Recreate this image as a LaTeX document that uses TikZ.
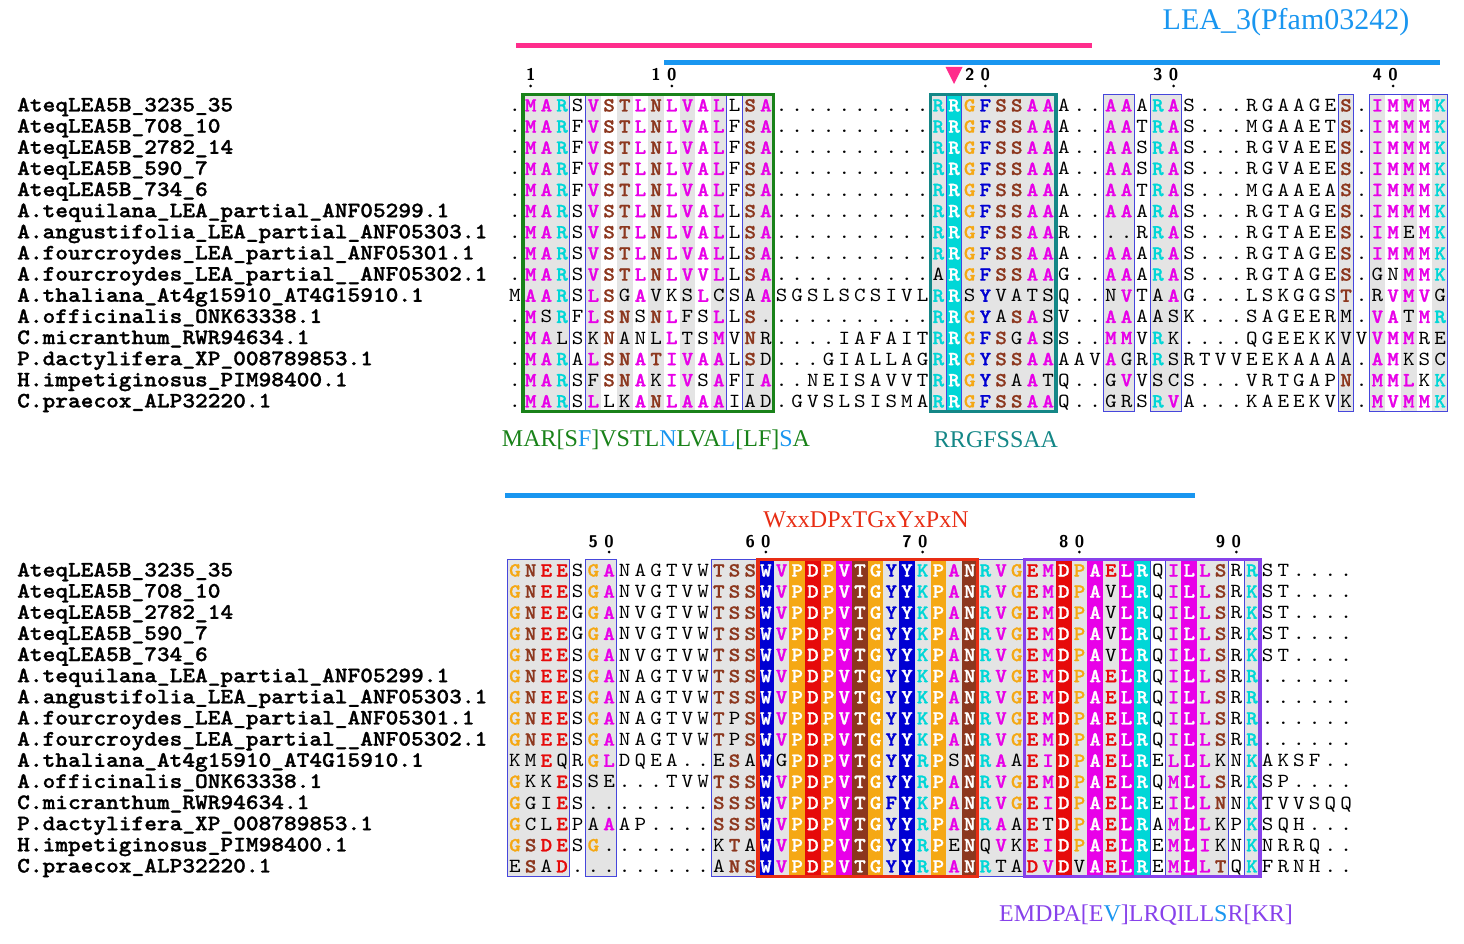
\documentclass[tikz,border=0pt]{standalone}
\usepackage{fontspec}
\usepackage{tikz}
\usetikzlibrary{positioning}
\newfontfamily\annfont{Liberation Serif}
\newfontfamily\alnreg{lmmono10-regular.otf}[FakeStretch=1.1]
\newfontfamily\alnbold{lmmonolt10-bold.otf}[FakeBold=1.2,FakeStretch=1.1]
\definecolor{resMag}{RGB}{232,0,232}
\definecolor{resCya}{RGB}{0,215,215}
\definecolor{resBrn}{RGB}{140,55,30}
\definecolor{resOra}{RGB}{245,168,20}
\definecolor{resRed}{RGB}{230,10,10}
\definecolor{resBlu}{RGB}{0,0,210}
\definecolor{alnGrey}{RGB}{228,228,228}
\definecolor{alnFrame}{RGB}{70,70,220}
\definecolor{motGreen}{RGB}{25,130,25}
\definecolor{motTeal}{RGB}{20,135,135}
\definecolor{motRed}{RGB}{232,45,20}
\definecolor{motPurple}{RGB}{135,65,235}
\definecolor{motPink}{RGB}{255,45,140}
\definecolor{lblBlue}{RGB}{25,150,240}
\tikzset{
  aln/res/.style={font=\alnreg\fontsize{20}{20}\selectfont, inner sep=0pt, anchor=base},
  aln/hil/.style={aln/res, font=\alnbold\fontsize{20}{20}\selectfont},
  aln/solid/.style={aln/hil, text=white},
  aln/name/.style={font=\alnbold\fontsize{22}{22}\selectfont, inner sep=0pt, anchor=base west},
  aln/num/.style={font=\sffamily\bfseries\fontsize{17}{17}\selectfont, inner sep=0pt, anchor=base},
  aln/bg/.style={fill=alnGrey},
  aln/box/.style={draw=alnFrame, line width=1pt},
  aln/motif/.style={line width=3.5pt},
  aln/bar/.style={line width=5pt},
  aln/label/.style={font=\annfont\fontsize{24}{24}\selectfont, inner sep=0pt}
}
% one alignment row: block (T/B), row number, residues
% upper case = highlighted, lower case = plain
\newcount\alncol
\newcommand\colx[1]{515+15.68*(#1)}
\newcommand\alnrow[3]{%
  \def\alnblk{#1}\def\alnrw{#2}%
  \ifx T#1\def\alnyo{105}\else\def\alnyo{570}\fi
  \pgfmathsetmacro\alny{\alnyo+21.14*(#2-1)}%
  \global\alncol=0
  \alnloop#3\relax}
\newcommand\alnloop[1]{\ifx#1\relax\else\alncell{#1}\global\advance\alncol by 1 \expandafter\alnloop\fi}
\newcommand\alncell[1]{%
  \pgfmathsetmacro\alncx{\colx{\the\alncol}}%
  \edef\alnname{\alnblk\alnrw-\the\alncol}%
  \ifnum`#1=46
    \node[aln/res] (\alnname) at (\alncx,\alny+6.5) {.};%
  \else\ifnum`#1<97
    \edef\alnc{\csname rc#1\endcsname}%
    \ifcsname sol\alnblk-\the\alncol\endcsname
      \fill[fill=\alnc] (\alncx-7.84,\alny-10.6) rectangle (\alncx+7.84,\alny+10.6);%
      \node[aln/solid] (\alnname) at (\alncx,\alny+6.5) {#1};%
    \else
      \node[aln/hil, text=\alnc] (\alnname) at (\alncx,\alny+6.5) {#1};%
    \fi
  \else
    \uppercase{\def\alnch{#1}}%
    \node[aln/res] (\alnname) at (\alncx,\alny+6.5) {\alnch};%
  \fi\fi}

\begin{document}
\begin{tikzpicture}[x=1pt, y=-1pt]
\fill[white] (0,0) rectangle (1464,944);
\useasboundingbox (0,0) rectangle (1464,944);

% residue colours and conserved columns
\foreach \r/\c in {A/resMag,V/resMag,I/resMag,L/resMag,M/resMag,R/resCya,K/resCya,S/resBrn,T/resBrn,N/resBrn,Q/resBrn,G/resOra,P/resOra,D/resRed,E/resRed,F/resBlu,Y/resBlu,W/resBlu,C/resBrn,H/resBlu}
  {\expandafter\xdef\csname rc\r\endcsname{\c}}
\foreach \c in {28} {\expandafter\gdef\csname solT-\c\endcsname{}}
\foreach \c in {16,18,19,20,21,22,23,25,27,29,35,37,39,40,43} {\expandafter\gdef\csname solB-\c\endcsname{}}

% grey columns
\foreach \c in {1,2,3,5,...,13,15,16,27,28,...,34,38,39,41,42,53,55,...,59}
  \fill[aln/bg] ({\colx{\c}-7.84},94.43) rectangle ++(15.68,317.1);
\foreach \c in {0,...,3,5,6,13,14,...,40,42,43,44,45,47}
  \fill[aln/bg] ({\colx{\c}-7.84},559.43) rectangle ++(15.68,317.1);

% top block
\alnrow{T}{1}{.MARsVSTLNLVALlSA..........RRGFSSAAa..AAaRAs...rgaageS.IMMMK}
\alnrow{T}{2}{.MARfVSTLNLVALfSA..........RRGFSSAAa..AAtRAs...mgaaetS.IMMMK}
\alnrow{T}{3}{.MARfVSTLNLVALfSA..........RRGFSSAAa..AAsRAs...rgvaeeS.IMMMK}
\alnrow{T}{4}{.MARfVSTLNLVALfSA..........RRGFSSAAa..AAsRAs...rgvaeeS.IMMMK}
\alnrow{T}{5}{.MARfVSTLNLVALfSA..........RRGFSSAAa..AAtRAs...mgaaeaS.IMMMK}
\alnrow{T}{6}{.MARsVSTLNLVALlSA..........RRGFSSAAa..AAaRAs...rgtageS.IMMMK}
\alnrow{T}{7}{.MARsVSTLNLVALlSA..........RRGFSSAAr....rRAs...rgtaeeS.IMeMK}
\alnrow{T}{8}{.MARsVSTLNLVALlSA..........RRGFSSAAa..AAaRAs...rgtageS.IMMMK}
\alnrow{T}{9}{.MARsVSTLNLVVLlSA..........aRGFSSAAg..AAaRAs...rgtageS.gnMMK}
\alnrow{T}{10}{mAARsLSgAvksLcsaAsgslscsivlRRsYvatsq..nVtaAg...lskggsT.rVMVg}
\alnrow{T}{11}{.MsRfLSNsNLfsLlS...........RRGYaSAsv..AAaask...sageerm.VAtMR}
\alnrow{T}{12}{.MAlskNanlLtsMvNr....iafaitRRGFSgAss..MMvRk....qgeekkvvVMMre}
\alnrow{T}{13}{.MARaLSNATIVAAlSd...giallagRRGYSSAAaavAgrRsrtvveekaaaa.AMksc}
\alnrow{T}{14}{.MARsfSNAkIVsAfiA..neisavvtRRGYSaAtq..gVvscs...vrtgapN.MMLkK}
\alnrow{T}{15}{.MARsLlkANLAAAiad.gvslsismaRRGFSSAAq..grsRVa...kaeekvk.MVMMK}

% bottom block
\alnrow{B}{1}{GNEEsGAnagtvwTSSWVPDPVTGYYKPANRVGEMDPAELRqILLSrRst....}
\alnrow{B}{2}{GNEEsGAnvgtvwTSSWVPDPVTGYYKPANRVGEMDPAvLRqILLSrKst....}
\alnrow{B}{3}{GNEEgGAnvgtvwTSSWVPDPVTGYYKPANRVGEMDPAvLRqILLSrKst....}
\alnrow{B}{4}{GNEEgGAnvgtvwTSSWVPDPVTGYYKPANRVGEMDPAvLRqILLSrKst....}
\alnrow{B}{5}{GNEEsGAnvgtvwTSSWVPDPVTGYYKPANRVGEMDPAvLRqILLSrKst....}
\alnrow{B}{6}{GNEEsGAnagtvwTSSWVPDPVTGYYKPANRVGEMDPAELRqILLSrR......}
\alnrow{B}{7}{GNEEsGAnagtvwTSSWVPDPVTGYYKPANRVGEMDPAELRqILLSrR......}
\alnrow{B}{8}{GNEEsGAnagtvwTpSWVPDPVTGYYKPANRVGEMDPAELRqILLSrR......}
\alnrow{B}{9}{GNEEsGAnagtvwTpSWVPDPVTGYYKPANRVGEMDPAELRqILLSrR......}
\alnrow{B}{10}{kmEqrGLdqea..eSaWgPDPVTGYYRPsNRAaEIDPAELReLLLknKaksf..}
\alnrow{B}{11}{GkkEsse...tvwTSSWVPDPVTGYYRPANRVGEMDPAELRqMLLSrKsp....}
\alnrow{B}{12}{GgiEs........SSSWVPDPVTGFYKPANRVGEIDPAELReILLNnKtvvsqq}
\alnrow{B}{13}{GclEpaAap....SSSWVPDPVTGYYRPANRAaEtDPAELRaMLLkpKsqh...}
\alnrow{B}{14}{GSDEsG.......kTaWVPDPVTGYYRPeNqVkEIDPAELReMLIknKnrrq..}
\alnrow{B}{15}{eSaD.........aNSWVPDPVTGYYRPANRtaDVDvAELReMLLTqKfrnh..}

% similarity boxes
\foreach \a/\b in {1/3,5/13,15/16,27/27,28/28,29/34,38/39,41/42,53/53,55/59}
  \draw[aln/box] ({\colx{\a}-7.84},94.43) rectangle ({\colx{\b}+7.84},411.53);
\foreach \a/\b in {0/3,5/6,13/32,33/40,41/41,42/45,46/46,47/47}
  \draw[aln/box] ({\colx{\a}-7.84},559.43) rectangle ({\colx{\b}+7.84},876.53);

% motif frames
\draw[aln/motif, draw=motGreen] ({\colx{1}-7.84},94.43) rectangle ({\colx{16}+7.84},411.53);
\draw[aln/motif, draw=motTeal] ({\colx{27}-7.84},94.43) rectangle ({\colx{34}+7.84},411.53);
\draw[aln/motif, draw=motRed] ({\colx{16}-7.84},559.43) rectangle ({\colx{29}+7.84},876.53);
\draw[aln/motif, draw=motPurple] ({\colx{33}-7.84},559.43) rectangle ({\colx{47}+7.84},876.53);

% numbering
\foreach \d/\c in {1/1,1/9,0/10,2/29,0/30,3/41,0/42,4/55,0/56}
  \node[aln/num] (numT-\c) at ({\colx{\c}},80.5) {\d};
\foreach \c in {1,10,30,42,56}
  \fill ({\colx{\c}},86) circle (1.5);
\foreach \d/\c in {5/5,0/6,6/15,0/16,7/25,0/26,8/35,0/36,9/45,0/46}
  \node[aln/num] (numB-\c) at ({\colx{\c}},547) {\d};
\foreach \c in {6,16,26,36,46}
  \fill ({\colx{\c}},552) circle (1.5);

% domain bars and site marker
\draw[aln/bar, draw=motPink] (516,46) -- (1092,46);
\draw[aln/bar, draw=lblBlue] (664,63) -- (1440,63);
\draw[aln/bar, draw=lblBlue] (505,495) -- (1195,495);
\fill[motPink] ({\colx{28}-8.5},67) -- ({\colx{28}+8.5},67) -- ({\colx{28}},84) -- cycle;

% labels
\node[aln/label, font=\annfont\fontsize{30}{30}\selectfont, text=lblBlue] (pfam) at (1286,22) {LEA\_3(Pfam03242)};
\node[aln/label, text=motGreen] (motA) at (656,440) {MAR[S\textcolor{lblBlue}{F}]VSTL\textcolor{lblBlue}{N}LVA\textcolor{lblBlue}{L}[LF]\textcolor{lblBlue}{S}A};
\node[aln/label, text=motTeal] (motB) at (996,440) {RRGFSSAA};
\node[aln/label, text=motRed] (motC) at (866,520) {WxxDPxTGxYxPxN};
\node[aln/label, text=motPurple] (motD) at (1146,915) {EMDPA[E\textcolor{lblBlue}{V}]LRQILL\textcolor{lblBlue}{S}R[KR]};

% sequence names
\foreach \nm [count=\r] in {AteqLEA5B\_3235\_35, AteqLEA5B\_708\_10, AteqLEA5B\_2782\_14, AteqLEA5B\_590\_7, AteqLEA5B\_734\_6, A.tequilana\_LEA\_partial\_ANF05299.1, A.angustifolia\_LEA\_partial\_ANF05303.1, A.fourcroydes\_LEA\_partial\_ANF05301.1, A.fourcroydes\_LEA\_partial\_\_ANF05302.1, A.thaliana\_At4g15910\_AT4G15910.1, A.officinalis\_ONK63338.1, C.micranthum\_RWR94634.1, P.dactylifera\_XP\_008789853.1, H.impetiginosus\_PIM98400.1, C.praecox\_ALP32220.1}{
  \node[aln/name] (nameT\r) at (17,{105+21.14*(\r-1)+6.5}) {\nm};
  \node[aln/name] (nameB\r) at (17,{570+21.14*(\r-1)+6.5}) {\nm};
}
\end{tikzpicture}
\end{document}
